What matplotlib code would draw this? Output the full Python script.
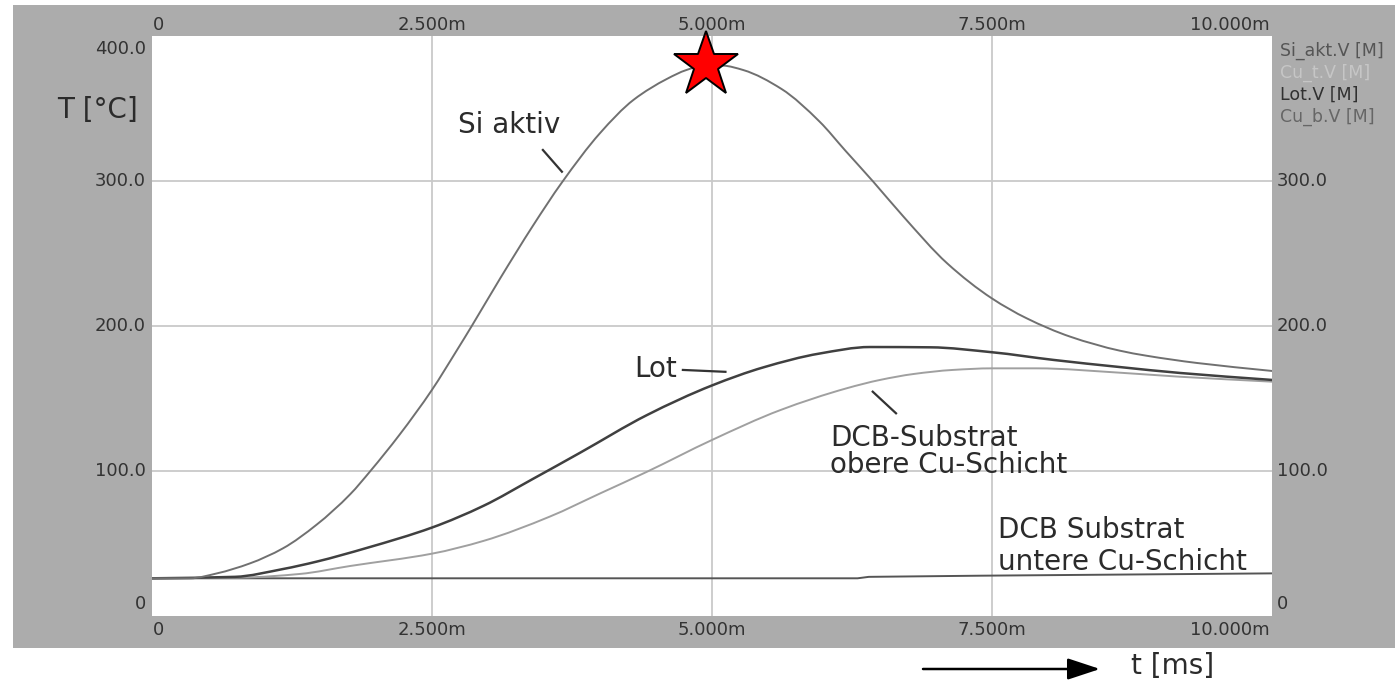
import matplotlib
matplotlib.use("Agg")
import matplotlib.pyplot as plt
from matplotlib.patches import Rectangle, PathPatch
from matplotlib.path import Path
import numpy as np

# ---- data: temperatures in degC over time in ms ----
t_si = [0, 0.34, 0.58, 0.875, 1.17, 1.47, 1.77, 1.95, 2.21, 2.50, 2.72, 2.855, 3.11,
        3.40, 3.66, 4.00, 4.30, 4.60, 4.77, 4.95, 5.10, 5.28, 5.62, 5.96, 6.19, 6.44,
        6.71, 7.10, 7.50, 7.81, 8.20, 8.64, 8.88, 9.33, 10.0]
T_si = [26, 26, 29.4, 36.3, 46.7, 63, 84, 100, 125, 156, 183, 200, 233,
        269, 299, 333, 356, 370.5, 376.5, 380, 379.6, 376.5, 363.5, 341, 321, 299.5,
        275.4, 243.2, 219, 205.3, 192.6, 183, 179.5, 174.5, 169]

t_lot = [0, 0.74, 1.17, 1.47, 1.92, 2.50, 2.96, 3.40, 3.82, 4.42, 5.00, 5.46, 5.96,
         6.41, 6.95, 7.50, 8.05, 8.64, 9.18, 10.0]
T_lot = [26, 27, 32.4, 37.5, 47, 61, 76, 94.5, 112.5, 138.6, 159, 171.5, 181,
         185.5, 185.3, 181.9, 176.6, 171.7, 167.6, 162.8]

t_cut = [0, 0.8, 1.32, 1.77, 2.50, 2.96, 3.55, 4.00, 4.42, 5.00, 5.61, 6.20, 6.50,
         6.80, 7.15, 7.50, 7.90, 8.64, 9.18, 10.0]
T_cut = [26, 26.5, 29, 34.5, 43, 51.8, 68.5, 84.5, 99.5, 121.4, 142, 157, 162.8,
         166.9, 169.7, 170.8, 170.8, 167.8, 165, 161.6]

t_cub = [0, 6.30, 6.40, 7.40, 8.70, 10.0]
T_cub = [26, 26, 27, 27.8, 28.6, 29.4]

x_ticks = [0, 2.5, 5.0, 7.5, 10.0]
x_labels = ["0", "2.500m", "5.000m", "7.500m", "10.000m"]
y_ticks = [0, 100, 200, 300, 400]
y_labels = ["0", "100.0", "200.0", "300.0", "400.0"]

legend_names = ["Si_akt.V [M]", "Cu_t.V [M]", "Lot.V [M]", "Cu_b.V [M]"]
legend_colors = ["#555555", "#c6c6c6", "#303030", "#666666"]


def smooth_path(x, y):
    """Monotone cubic (Fritsch-Carlson) Bezier path through the sample points."""
    x = np.asarray(x, float)
    y = np.asarray(y, float)
    h = np.diff(x)
    d = np.diff(y) / h
    m = np.zeros_like(y)
    m[0], m[-1] = d[0], d[-1]
    for i in range(1, len(x) - 1):
        if d[i - 1] * d[i] > 0:
            w1 = 2 * h[i] + h[i - 1]
            w2 = h[i] + 2 * h[i - 1]
            m[i] = (w1 + w2) / (w1 / d[i - 1] + w2 / d[i])
    verts = [(x[0], y[0])]
    codes = [Path.MOVETO]
    for i in range(len(x) - 1):
        verts += [(x[i] + h[i] / 3, y[i] + m[i] * h[i] / 3),
                  (x[i + 1] - h[i] / 3, y[i + 1] - m[i + 1] * h[i] / 3),
                  (x[i + 1], y[i + 1])]
        codes += [Path.CURVE4] * 3
    return Path(verts, codes)


# ---- figure layout ----
W, H = 1395, 684
fig = plt.figure(figsize=(W / 100, H / 100), dpi=100, facecolor="white")
fig.patches.append(Rectangle((13 / W, 1 - 648 / H), (W - 13) / W, (648 - 5) / H,
                             transform=fig.transFigure, facecolor="#acacac",
                             edgecolor="none", zorder=-10))

ax = fig.add_axes([152 / W, 1 - 616 / H, (1272 - 152) / W, (616 - 36) / H])
ax.set_zorder(1)
ax.set_facecolor("white")
ax.set_xlim(x_ticks[0], x_ticks[-1])
ax.set_ylim(y_ticks[0], y_ticks[-1])
for s in ax.spines.values():
    s.set_visible(False)
ax.set_xticks([])
ax.set_yticks([])

grid_kw = dict(color="#c9c9c9", lw=1.3, zorder=1)
for xv in x_ticks[1:-1]:
    ax.axvline(xv, **grid_kw)
for yv in y_ticks[1:-1]:
    ax.axhline(yv, **grid_kw)

# ---- curves ----
ax.plot(t_cub, T_cub, color="#555555", lw=1.4, zorder=3)
for tx, ty, col, lw in [(t_cut, T_cut, "#a0a0a0", 1.4),
                        (t_lot, T_lot, "#404040", 1.8),
                        (t_si, T_si, "#707070", 1.4)]:
    ax.add_patch(PathPatch(smooth_path(tx, ty), facecolor="none", edgecolor=col,
                           lw=lw, zorder=3, capstyle="round", joinstyle="round"))

# peak marker on the silicon curve
i_pk = int(np.argmax(T_si))
ax.plot(t_si[i_pk], T_si[i_pk], marker="*", ms=49, mfc="#ff0000", mec="black",
        mew=1.4, clip_on=False, zorder=6)

# ---- tick labels ----
tick_kw = dict(fontsize=13, color="#333333", family="DejaVu Sans",
               textcoords="offset pixels", annotation_clip=False)
xt = ax.get_xaxis_transform()
for i, (xv, lab) in enumerate(zip(x_ticks, x_labels)):
    if i == 0:
        ha, dx = "left", 1
    elif i == len(x_ticks) - 1:
        ha, dx = "right", -2
    else:
        ha, dx = "center", 0
    ax.annotate(lab, xy=(xv, 1), xycoords=xt, xytext=(dx, 11), ha=ha, va="center", **tick_kw)
    ax.annotate(lab, xy=(xv, 0), xycoords=xt, xytext=(dx, -14), ha=ha, va="center", **tick_kw)

yt = ax.get_yaxis_transform()
for i, (yv, lab) in enumerate(zip(y_ticks, y_labels)):
    if i == 0:
        dy = 12
    elif i == len(y_ticks) - 1:
        dy = -13
    else:
        dy = 0
    ax.annotate(lab, xy=(0, yv), xycoords=yt, xytext=(-6, dy), ha="right", va="center", **tick_kw)
    if i < len(y_ticks) - 1:
        ax.annotate(lab, xy=(1, yv), xycoords=yt, xytext=(5, dy), ha="left", va="center", **tick_kw)

# signal list in the right margin
for k, (name, col) in enumerate(zip(legend_names, legend_colors)):
    ax.annotate(name, xy=(1, 1), xycoords="axes fraction", xytext=(8, -15 - 22 * k),
                textcoords="offset pixels", ha="left", va="center", fontsize=12.5,
                color=col, family="DejaVu Sans", annotation_clip=False)

# ---- curve labels with leader lines ----
lab_kw = dict(fontsize=20, color="#2b2b2b", family="DejaVu Sans", va="baseline", zorder=5)
lead_kw = dict(color="#333333", lw=1.6, zorder=5)

ax.text(2.732, 333.1, "Si aktiv", ha="left", **lab_kw)
ax.plot([3.49, 3.66], [321.4, 306.4], **lead_kw)

ax.text(4.69, 165.0, "Lot", ha="right", **lab_kw)
ax.plot([4.74, 5.12], [169.7, 168.4], **lead_kw)

ax.text(6.054, 117.2, "DCB-Substrat", ha="left", **lab_kw)
ax.text(6.054, 98.3, "obere Cu-Schicht", ha="left", **lab_kw)
ax.plot([6.435, 6.643], [154.7, 139.8], **lead_kw)

ax.text(7.551, 53.6, "DCB Substrat", ha="left", **lab_kw)
ax.text(7.551, 31.7, "untere Cu-Schicht", ha="left", **lab_kw)

# ---- axis titles ----
fig.text(138 / W, (H - 118) / H, "T [°C]", ha="right", va="baseline",
         fontsize=20, color="#2b2b2b", family="DejaVu Sans")
fig.text(1131 / W, (H - 674) / H, "t [ms]", ha="left", va="baseline",
         fontsize=20, color="#2b2b2b", family="DejaVu Sans")
ax.annotate("", xy=(1100, H - 669), xycoords="figure pixels",
            xytext=(923, H - 669), textcoords="figure pixels",
            arrowprops=dict(arrowstyle="-|>,head_length=1.0,head_width=0.33",
                            mutation_scale=20, color="black", lw=1.8,
                            shrinkA=0, shrinkB=0),
            annotation_clip=False)

fig.savefig("out.png", dpi=100, facecolor="white")
